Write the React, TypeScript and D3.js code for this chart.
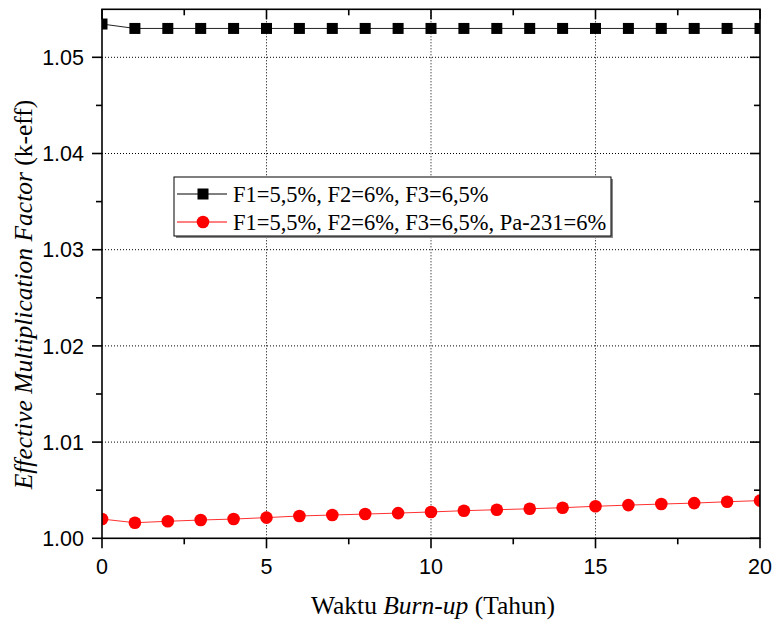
import React from "react";
import * as d3 from "d3";

const years = [0, 1, 2, 3, 4, 5, 6, 7, 8, 9, 10, 11, 12, 13, 14, 15, 16, 17, 18, 19, 20];
const keffBase = [1.05346, 1.0530, 1.0530, 1.0530, 1.0530, 1.0530, 1.0530, 1.0530, 1.0530, 1.0530, 1.0530, 1.0530, 1.0530, 1.0530, 1.0530, 1.0530, 1.0530, 1.0530, 1.0530, 1.0530, 1.0530];
const keffPa = [1.0020, 1.00162, 1.00177, 1.0019, 1.0020, 1.00215, 1.00232, 1.00242, 1.00252, 1.00262, 1.00274, 1.00287, 1.00297, 1.00307, 1.00318, 1.00333, 1.00345, 1.00356, 1.00366, 1.0038, 1.00392];
const xTicks = [0, 5, 10, 15, 20];
const xMinor = [2.5, 7.5, 12.5, 17.5];
const yTicks = [1.0, 1.01, 1.02, 1.03, 1.04, 1.05];
const yMinor = [1.005, 1.015, 1.025, 1.035, 1.045];
const legendLabels = ["F1=5,5%, F2=6%, F3=6,5%", "F1=5,5%, F2=6%, F3=6,5%, Pa-231=6%"];

const W = 772, H = 621;
const L = 102, R = 760, T = 9.3, B = 538.3;

export default function App() {
  const x = d3.scaleLinear().domain([0, 20]).range([L, R]);
  const y = d3.scaleLinear().domain([1.0, 1.05499]).range([B, T]);
  const line = d3.line<number>().x((_, i) => x(years[i])).y((d) => y(d));
  const serif = "'Liberation Serif', 'Times New Roman', serif";
  const sans = "'Liberation Sans', Arial, sans-serif";
  return (
    <svg width={W} height={H} style={{ position: "absolute", left: 0, top: 0, background: "#fff" }}>
      <defs>
        <clipPath id="plot">
          <rect x={L} y={T} width={R - L} height={B - T} />
        </clipPath>
      </defs>
      <rect x={0} y={0} width={W} height={H} fill="#fff" />
      {/* grid */}
      {xTicks.filter((t) => t > 0 && t < 20).map((t) => (
        <line key={"gx" + t} x1={x(t)} x2={x(t)} y1={T} y2={B} stroke="#000" strokeWidth={1} strokeDasharray="1,2" />
      ))}
      {yTicks.filter((t) => t > 1.0).map((t) => (
        <line key={"gy" + t} x1={L} x2={R} y1={y(t)} y2={y(t)} stroke="#000" strokeWidth={1} strokeDasharray="1,2" />
      ))}
      {/* series */}
      <g clipPath="url(#plot)">
        <path d={line(keffBase) || ""} fill="none" stroke="#222" strokeWidth={1} />
        <path d={line(keffPa) || ""} fill="none" stroke="#ff3030" strokeWidth={1} />
        {keffBase.map((v, i) => (
          <rect key={"s" + i} x={x(years[i]) - 5.5} y={y(v) - 5.5} width={11} height={11} fill="#000" />
        ))}
        {keffPa.map((v, i) => (
          <circle key={"c" + i} cx={x(years[i])} cy={y(v)} r={6.3} fill="#ff0000" />
        ))}
      </g>
      {/* axes frame */}
      <rect x={L} y={T} width={R - L} height={B - T} fill="none" stroke="#000" strokeWidth={1.6} />
      {/* x ticks */}
      {xTicks.map((t) => (
        <g key={"xt" + t}>
          <line x1={x(t)} x2={x(t)} y1={B} y2={B + 10} stroke="#000" strokeWidth={1.6} />
          <line x1={x(t)} x2={x(t)} y1={T} y2={T + 10} stroke="#000" strokeWidth={1.6} />
          <text x={x(t)} y={574} textAnchor="middle" fontFamily={sans} fontSize={21.5}>{t}</text>
        </g>
      ))}
      {xMinor.map((t) => (
        <g key={"xm" + t}>
          <line x1={x(t)} x2={x(t)} y1={B} y2={B + 6} stroke="#000" strokeWidth={1.6} />
          <line x1={x(t)} x2={x(t)} y1={T} y2={T + 6} stroke="#000" strokeWidth={1.6} />
        </g>
      ))}
      {/* y ticks */}
      {yTicks.map((t) => (
        <g key={"yt" + t}>
          <line x1={L - 10} x2={L} y1={y(t)} y2={y(t)} stroke="#000" strokeWidth={1.6} />
          <line x1={R - 10} x2={R} y1={y(t)} y2={y(t)} stroke="#000" strokeWidth={1.6} />
          <text x={84} y={y(t) + 7.7} textAnchor="end" fontFamily={sans} fontSize={21.5}>{t.toFixed(2)}</text>
        </g>
      ))}
      {yMinor.map((t) => (
        <g key={"ym" + t}>
          <line x1={L - 6} x2={L} y1={y(t)} y2={y(t)} stroke="#000" strokeWidth={1.6} />
          <line x1={R - 6} x2={R} y1={y(t)} y2={y(t)} stroke="#000" strokeWidth={1.6} />
        </g>
      ))}
      {/* axis titles */}
      <text x={433} y={614} textAnchor="middle" fontFamily={serif} fontSize={25.5}>
        Waktu <tspan fontStyle="italic">Burn-up</tspan> (Tahun)
      </text>
      <text transform="translate(32,294.5) rotate(-90)" textAnchor="middle" fontFamily={serif} fontSize={25.5}>
        <tspan fontStyle="italic">Effective Multiplication Factor</tspan> (k-eff)
      </text>
      {/* legend */}
      <rect x={176} y={179} width={437} height={59} fill="#888" />
      <rect x={174} y={177} width={437} height={59} fill="#fff" stroke="#000" strokeWidth={1} />
      <line x1={177} x2={227} y1={194} y2={194} stroke="#000" strokeWidth={1} />
      <rect x={197.5} y={188.5} width={11} height={11} fill="#000" />
      <text x={233} y={201.5} fontFamily={serif} fontSize={22.5}>{legendLabels[0]}</text>
      <line x1={177} x2={227} y1={222} y2={222} stroke="#ff0000" strokeWidth={1} />
      <circle cx={203} cy={222} r={6.3} fill="#ff0000" />
      <text x={233} y={229.5} fontFamily={serif} fontSize={22.5}>{legendLabels[1]}</text>
    </svg>
  );
}
